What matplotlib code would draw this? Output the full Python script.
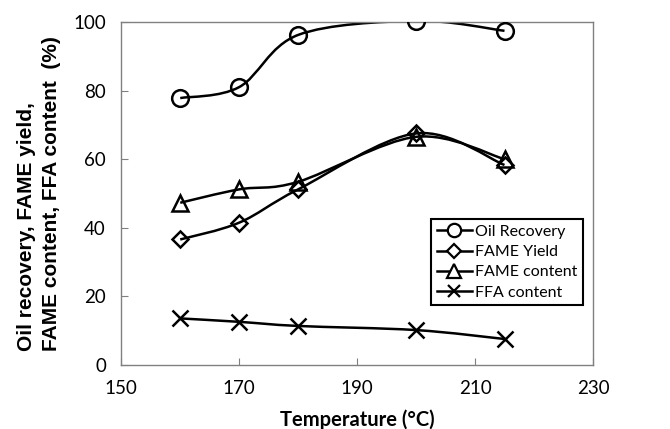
import numpy as np
import matplotlib.pyplot as plt
from matplotlib.path import Path
from matplotlib.patches import PathPatch

plt.rcParams['font.family'] = ['Lato', 'DejaVu Sans']

temperature = [160, 170, 180, 200, 215]
oil_recovery = [77.8, 81.0, 96.2, 100.3, 97.4]
fame_yield = [36.6, 41.5, 51.2, 67.5, 58.3]
fame_content = [47.3, 51.2, 53.4, 66.5, 60.0]
ffa_content = [13.6, 12.6, 11.4, 10.2, 7.6]

series = [
    ("Oil Recovery", oil_recovery, "o", 12),
    ("FAME Yield", fame_yield, "D", 8.5),
    ("FAME content", fame_content, "^", 12),
    ("FFA content", ffa_content, "x", 11),
]


def smooth_path(x, y):
    # excel-like smoothed line: catmull-rom turned into cubic beziers
    pts = np.column_stack([x, y]).astype(float)
    verts = [pts[0]]
    codes = [Path.MOVETO]
    n = len(pts)
    for i in range(n - 1):
        p0 = pts[max(i - 1, 0)]
        p1 = pts[i]
        p2 = pts[i + 1]
        p3 = pts[min(i + 2, n - 1)]
        c1 = p1 + (p2 - p0) / 6.0
        c2 = p2 - (p3 - p1) / 6.0
        verts += [c1, c2, p2]
        codes += [Path.CURVE4] * 3
    return Path(verts, codes)


fig = plt.figure(figsize=(6.7, 4.29), dpi=100)
ax = fig.add_axes([0.181, 0.149, 0.704, 0.80])

for name, vals, mk, ms in series:
    ax.add_patch(PathPatch(smooth_path(temperature, vals), facecolor='none',
                           edgecolor='black', lw=1.8, zorder=2))
    ax.plot(temperature, vals, linestyle='none', marker=mk, ms=ms,
            mfc='none', mec='black', mew=1.8, zorder=3)
    # proxy for legend
    ax.plot([], [], color='black', lw=1.8, marker=mk, ms=ms * 0.8,
            mfc='white', mec='black', mew=1.6, label=name)

ax.set_xlim(150, 230)
ax.set_ylim(0, 100)
ax.set_xticks([150, 170, 190, 210, 230])
ax.set_yticks([0, 20, 40, 60, 80, 100])
ax.tick_params(direction='in', length=5, width=0.8, color='#808080',
               labelsize=13.5, pad=11)
for s in ax.spines.values():
    s.set_color('#808080')
    s.set_linewidth(1.0)

ax.set_xlabel('Temperature (°C)', fontsize=14.5, fontweight='bold', va='top')
ax.xaxis.set_label_coords(0.5, -0.128)
ax.set_ylabel('Oil recovery, FAME yield,\nFAME content, FFA content  (%)',
              fontsize=15, fontweight='bold', family='Liberation Sans',
              multialignment='left', linespacing=1.4, va='center')
ax.yaxis.set_label_coords(-0.174, 0.5)

leg = ax.legend(loc='lower right', bbox_to_anchor=(0.996, 0.151), fontsize=11.5,
                handlelength=2.2, handletextpad=0.2, labelspacing=0.38,
                borderpad=0.35, fancybox=False, framealpha=1)
leg.get_frame().set_edgecolor('black')
leg.get_frame().set_linewidth(1.5)

fig.savefig('out.png', dpi=100)
